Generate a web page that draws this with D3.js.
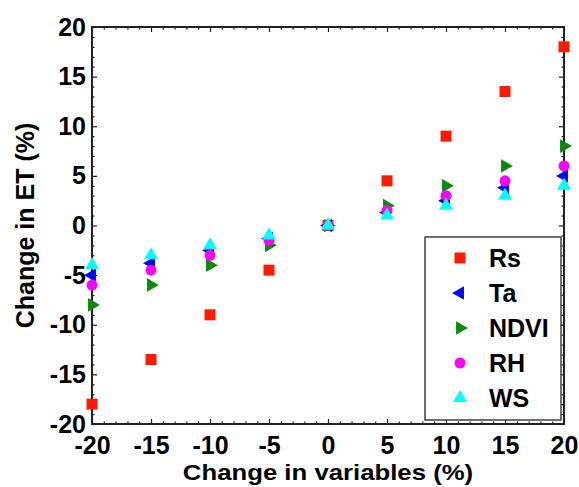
<!DOCTYPE html>
<html>
<head>
<meta charset="utf-8">
<script src="https://cdn.jsdelivr.net/npm/d3@7"></script>
<style>
  body { margin: 0; background: #fff; }
  text { font-family: "Liberation Sans", Arial, sans-serif; font-weight: bold; }
</style>
</head>
<body>
<div id="chart"></div>
<script>
// values
const changes = [-20, -15, -10, -5, 0, 5, 10, 15, 20];
const rsVals   = [-18, -13.5, -9, -4.5, 0, 4.5, 9, 13.5, 18];
const taVals   = [-5, -3.8, -2.5, -1.3, 0, 1.3, 2.5, 3.8, 5];
const ndviVals = [-8, -6, -4, -2, 0, 2, 4, 6, 8];
const rhVals   = [-6, -4.5, -3, -1.5, 0, 1.5, 3, 4.5, 6];
const wsVals   = [-4, -3, -2, -1, 0, 1, 2, 3, 4];
const seriesNames = ["Rs", "Ta", "NDVI", "RH", "WS"];
const majorTicks = [-20, -15, -10, -5, 0, 5, 10, 15, 20];

const W = 579, H = 487;
const plot = { left: 92, right: 564, top: 27, bottom: 424 };

const svg = d3.select("#chart").append("svg")
  .attr("width", W).attr("height", H);

const x = d3.scaleLinear().domain([-20, 20]).range([plot.left, plot.right]);
const y = d3.scaleLinear().domain([-20, 20]).range([plot.bottom, plot.top]);

const minorTicks = d3.range(-20, 21, 1).filter(v => v % 5 !== 0);
const fmt = d => String(d);   // plain hyphen, like the original

// marker styles
const styles = {
  Rs:   { color: "#ff1a00", type: d3.symbolSquare,   size: 121, rot: 0 },
  Ta:   { color: "#0000ff", type: d3.symbolTriangle, size: 80,  rot: -90 },
  NDVI: { color: "#0a8a0a", type: d3.symbolTriangle, size: 80,  rot: 90 },
  RH:   { color: "#ff00ff", type: d3.symbolCircle,   size: 95,  rot: 0 },
  WS:   { color: "#00ffff", type: d3.symbolTriangle, size: 85,  rot: 0 }
};
const seriesVals = { Rs: rsVals, Ta: taVals, NDVI: ndviVals, RH: rhVals, WS: wsVals };

// axes: ticks point inward on all four sides
function styleAxis(g) {
  g.select(".domain").remove();
  g.selectAll(".tick line").attr("stroke", "#222").attr("stroke-width", 1.2);
  g.selectAll(".tick text").attr("fill", "#000").attr("font-size", 25)
    .attr("font-family", "Liberation Sans, Arial, sans-serif").attr("font-weight", "bold");
}

svg.append("g").attr("transform", `translate(0,${plot.bottom})`)
  .call(d3.axisBottom(x).tickValues(majorTicks).tickSize(-5).tickPadding(12).tickFormat(fmt))
  .call(styleAxis);
svg.append("g").attr("transform", `translate(0,${plot.bottom})`)
  .call(d3.axisBottom(x).tickValues(minorTicks).tickSize(-2.5).tickFormat(""))
  .call(styleAxis);
svg.append("g").attr("transform", `translate(0,${plot.top})`)
  .call(d3.axisTop(x).tickValues(majorTicks).tickSize(-5).tickFormat(""))
  .call(styleAxis);
svg.append("g").attr("transform", `translate(0,${plot.top})`)
  .call(d3.axisTop(x).tickValues(minorTicks).tickSize(-2.5).tickFormat(""))
  .call(styleAxis);
svg.append("g").attr("transform", `translate(${plot.left},0)`)
  .call(d3.axisLeft(y).tickValues(majorTicks).tickSize(-5).tickPadding(6).tickFormat(fmt))
  .call(styleAxis);
svg.append("g").attr("transform", `translate(${plot.left},0)`)
  .call(d3.axisLeft(y).tickValues(minorTicks).tickSize(-2.5).tickFormat(""))
  .call(styleAxis);
svg.append("g").attr("transform", `translate(${plot.right},0)`)
  .call(d3.axisRight(y).tickValues(majorTicks).tickSize(-5).tickFormat(""))
  .call(styleAxis);
svg.append("g").attr("transform", `translate(${plot.right},0)`)
  .call(d3.axisRight(y).tickValues(minorTicks).tickSize(-2.5).tickFormat(""))
  .call(styleAxis);

// frame
svg.append("rect")
  .attr("x", plot.left).attr("y", plot.top)
  .attr("width", plot.right - plot.left).attr("height", plot.bottom - plot.top)
  .attr("fill", "none").attr("stroke", "#222").attr("stroke-width", 2);

// points
seriesNames.forEach(name => {
  const s = styles[name];
  const sym = d3.symbol().type(s.type).size(s.size);
  svg.append("g").selectAll("path")
    .data(changes.map((c, i) => ({ c, v: seriesVals[name][i] })))
    .join("path")
      .attr("d", sym)
      .attr("transform", d => `translate(${x(d.c)},${y(d.v)}) rotate(${s.rot})`)
      .attr("fill", s.color);
});

// axis titles (x title is drawn a bit wide in the original)
svg.append("text")
  .attr("transform", `translate(${(plot.left + plot.right) / 2},480) scale(1.17,1)`)
  .attr("text-anchor", "middle").attr("font-size", 22).attr("fill", "#000")
  .text("Change in variables (%)");
svg.append("text")
  .attr("transform", `translate(34,${(plot.top + plot.bottom) / 2}) rotate(-90)`)
  .attr("text-anchor", "middle").attr("font-size", 25).attr("fill", "#000")
  .text("Change in ET (%)");

// legend
const legend = svg.append("g");
legend.append("rect")
  .attr("x", 425).attr("y", 237).attr("width", 136).attr("height", 183)
  .attr("fill", "#fff").attr("stroke", "#111").attr("stroke-width", 1.2);
seriesNames.forEach((name, i) => {
  const s = styles[name];
  const ly = 258 + i * 35;
  legend.append("path")
    .attr("d", d3.symbol().type(s.type).size(s.size)())
    .attr("transform", `translate(460,${ly}) rotate(${s.rot})`)
    .attr("fill", s.color);
  legend.append("text")
    .attr("x", 489).attr("y", ly).attr("dy", "0.36em")
    .attr("font-size", 25).attr("fill", "#000")
    .text(name);
});
</script>
</body>
</html>
